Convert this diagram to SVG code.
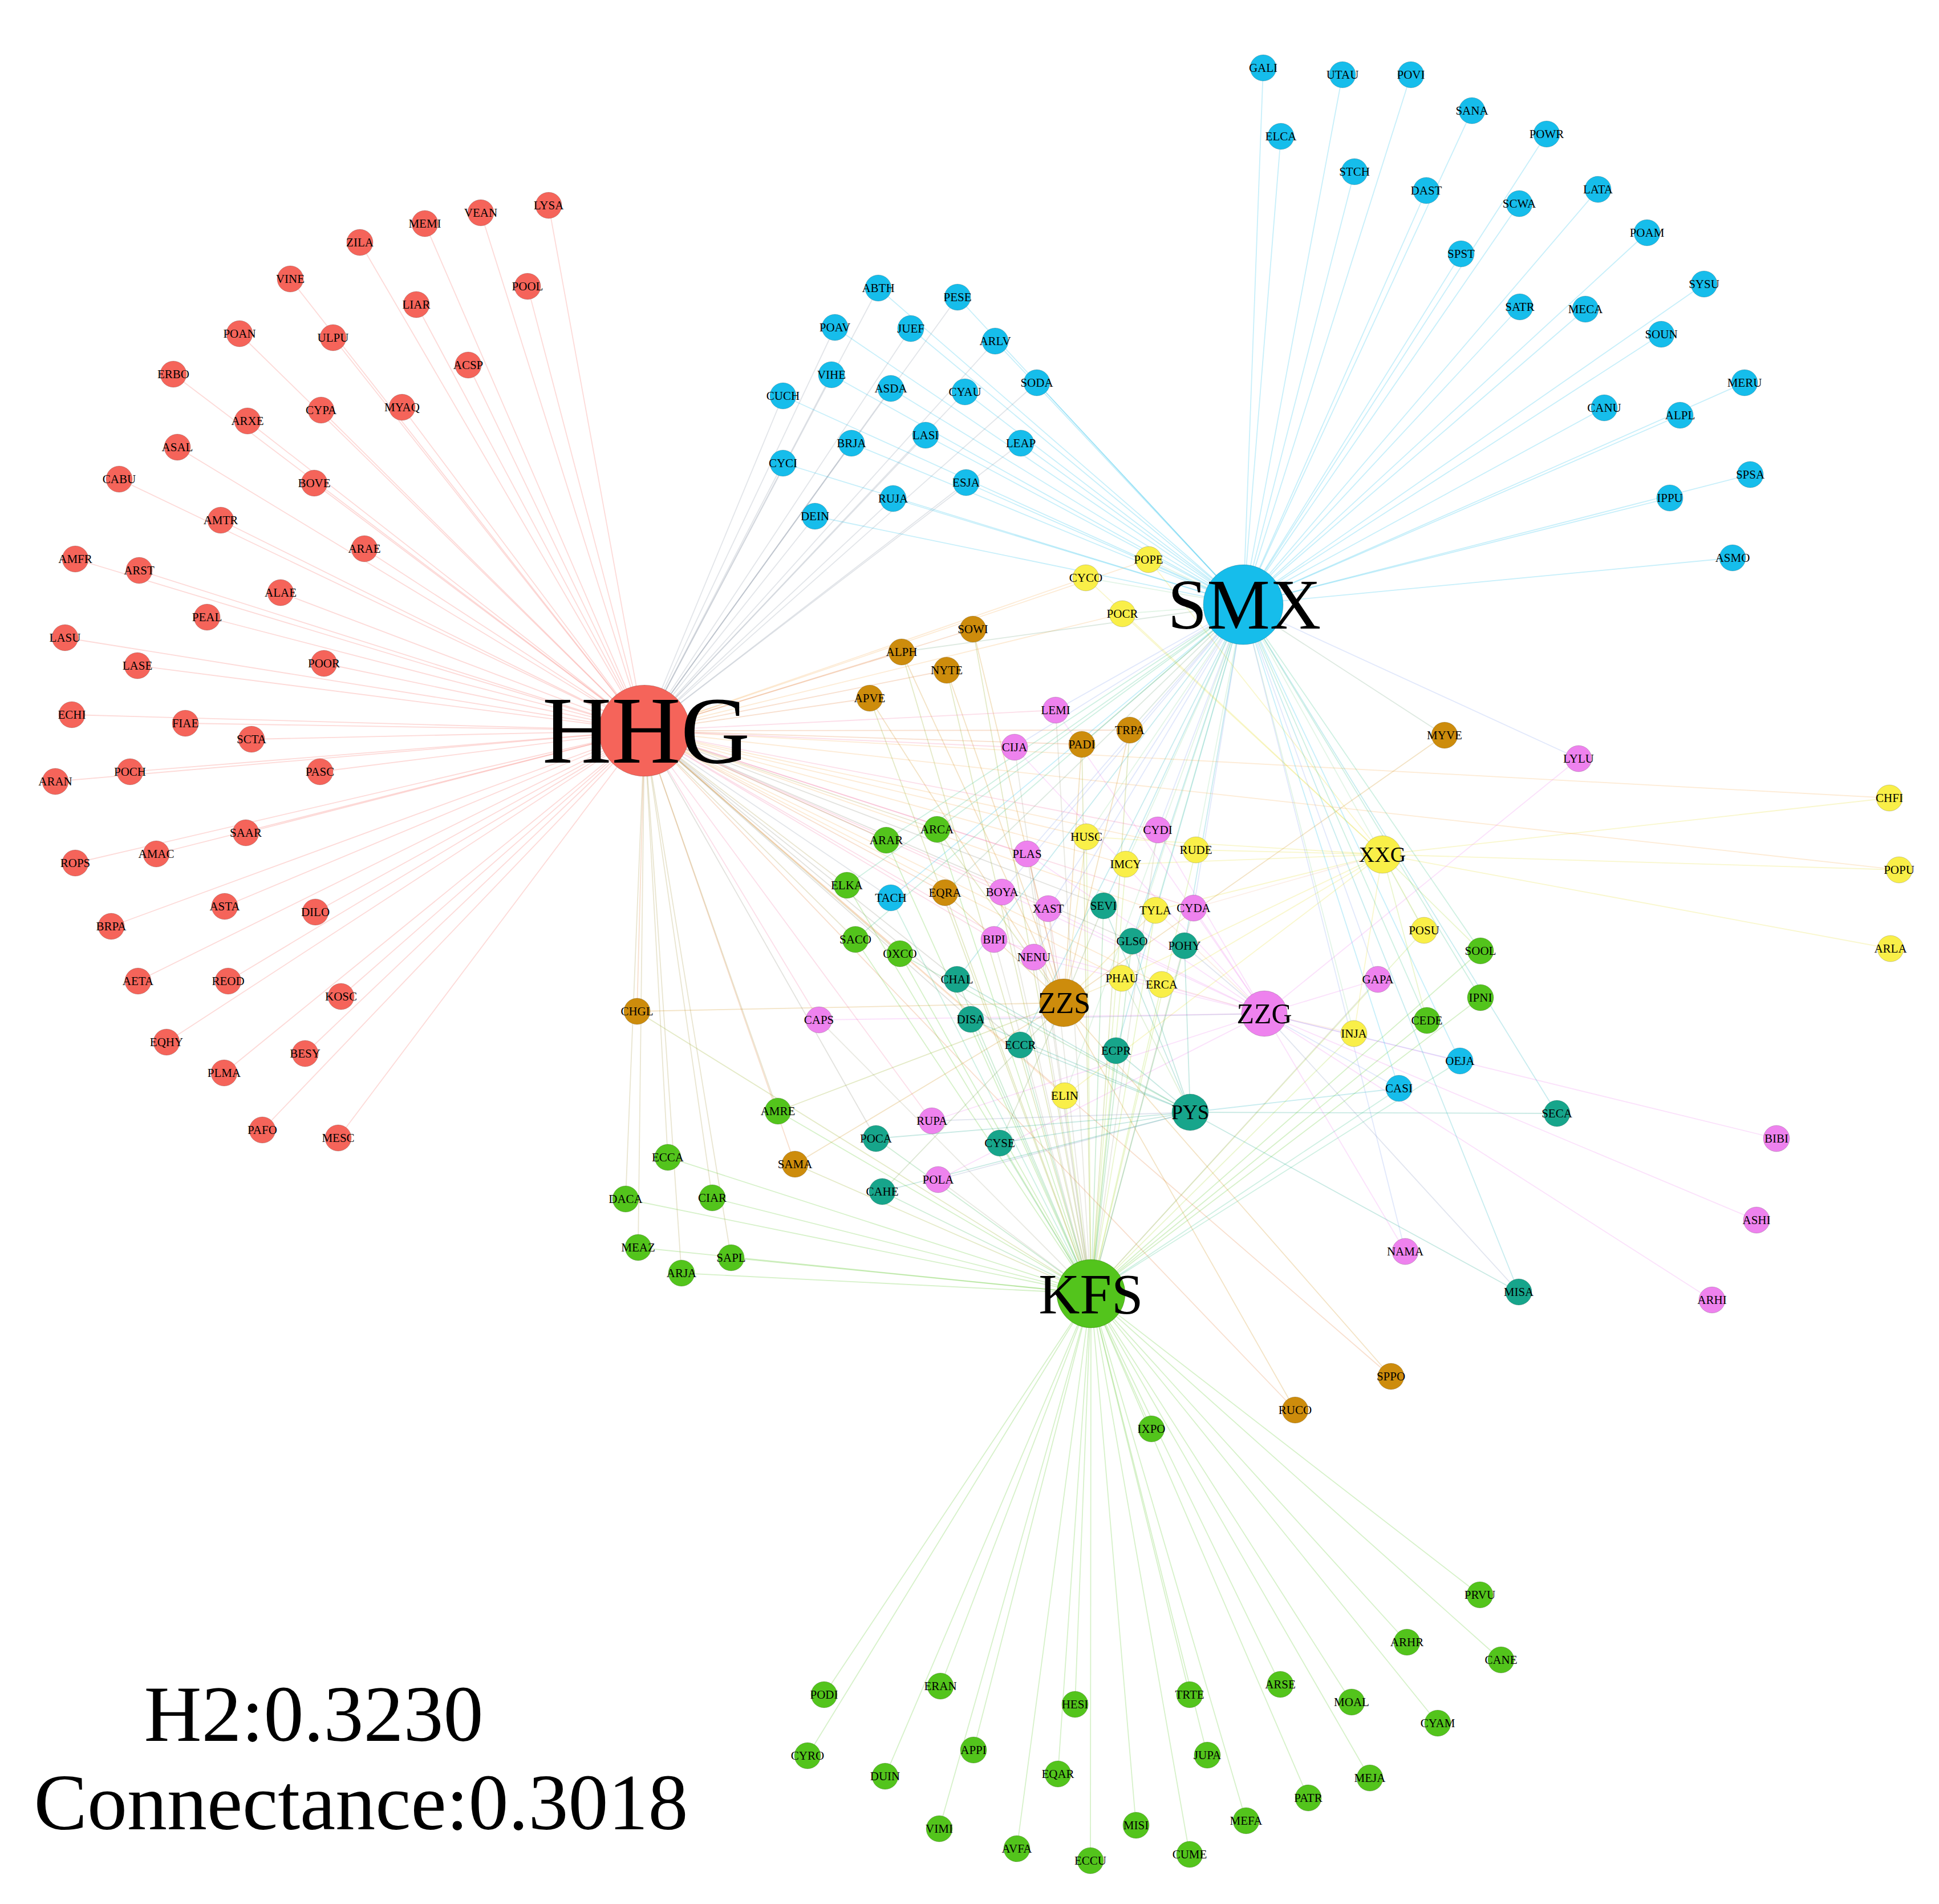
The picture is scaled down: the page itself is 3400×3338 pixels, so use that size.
<svg xmlns="http://www.w3.org/2000/svg" width="3400" height="3338" viewBox="0 0 3400 3338">
<style>
text{font-family:"Liberation Serif","Times New Roman",serif;font-size:21px;text-anchor:middle;fill:#000}
.hub text{font-size:60px}
circle{stroke:rgba(0,0,0,0.18);stroke-width:1}
.r circle{fill:#F5645A}.b circle{fill:#16BDEB}.y circle{fill:#F9EF48}.o circle{fill:#CD8C0C}.p circle{fill:#EE82EE}.t circle{fill:#17A58B}.g circle{fill:#53C41C}
#edges line{stroke-width:1.8;stroke-opacity:0.24;fill:none}
.eR{stroke:#F5645A}.eB{stroke:#16BDEB}.eY{stroke:#E8DC30}.eO{stroke:#CD8C0C}.eP{stroke:#EE82EE}.eT{stroke:#17A58B}.eG{stroke:#53C41C}
.eRB{stroke:#8691A3}.eRG{stroke:#A4943B}.eRY{stroke:#F7AA51}.eRO{stroke:#E17833}.eRP{stroke:#F273A4}.eRT{stroke:#868573}
.eBG{stroke:#35C184}.eBY{stroke:#88D69A}.eBO{stroke:#72A57C}.eBP{stroke:#82A0ED}.eBT{stroke:#17B1BB}
.eGY{stroke:#A6DA32}.eGO{stroke:#90A814}.eGP{stroke:#A1A385}.eGT{stroke:#35B554}
.eYO{stroke:#E3BE2A}.eYP{stroke:#F4B99B}.eYT{stroke:#88CA6A}.eOP{stroke:#DE877D}.eOT{stroke:#72994C}.ePT{stroke:#8394BD}
</style>
<rect width="3400" height="3338" fill="#fff"/>
<g id="edges">
<line class="eR" x1="962" y1="360" x2="1130" y2="1281"/>
<line class="eR" x1="843" y1="373" x2="1130" y2="1281"/>
<line class="eR" x1="745" y1="392" x2="1130" y2="1281"/>
<line class="eR" x1="631" y1="425" x2="1130" y2="1281"/>
<line class="eR" x1="509" y1="489" x2="1130" y2="1281"/>
<line class="eR" x1="925" y1="502" x2="1130" y2="1281"/>
<line class="eR" x1="730" y1="534" x2="1130" y2="1281"/>
<line class="eR" x1="420" y1="585" x2="1130" y2="1281"/>
<line class="eR" x1="584" y1="592" x2="1130" y2="1281"/>
<line class="eR" x1="821" y1="640" x2="1130" y2="1281"/>
<line class="eR" x1="304" y1="656" x2="1130" y2="1281"/>
<line class="eR" x1="563" y1="719" x2="1130" y2="1281"/>
<line class="eR" x1="705" y1="714" x2="1130" y2="1281"/>
<line class="eR" x1="434" y1="738" x2="1130" y2="1281"/>
<line class="eR" x1="311" y1="784" x2="1130" y2="1281"/>
<line class="eR" x1="209" y1="840" x2="1130" y2="1281"/>
<line class="eR" x1="551" y1="847" x2="1130" y2="1281"/>
<line class="eR" x1="387" y1="912" x2="1130" y2="1281"/>
<line class="eR" x1="639" y1="962" x2="1130" y2="1281"/>
<line class="eR" x1="132" y1="980" x2="1130" y2="1281"/>
<line class="eR" x1="244" y1="1000" x2="1130" y2="1281"/>
<line class="eR" x1="492" y1="1039" x2="1130" y2="1281"/>
<line class="eR" x1="363" y1="1082" x2="1130" y2="1281"/>
<line class="eR" x1="114" y1="1118" x2="1130" y2="1281"/>
<line class="eR" x1="241" y1="1167" x2="1130" y2="1281"/>
<line class="eR" x1="568" y1="1163" x2="1130" y2="1281"/>
<line class="eR" x1="126" y1="1253" x2="1130" y2="1281"/>
<line class="eR" x1="325" y1="1268" x2="1130" y2="1281"/>
<line class="eR" x1="441" y1="1296" x2="1130" y2="1281"/>
<line class="eR" x1="228" y1="1353" x2="1130" y2="1281"/>
<line class="eR" x1="561" y1="1353" x2="1130" y2="1281"/>
<line class="eR" x1="97" y1="1370" x2="1130" y2="1281"/>
<line class="eR" x1="431" y1="1460" x2="1130" y2="1281"/>
<line class="eR" x1="274" y1="1497" x2="1130" y2="1281"/>
<line class="eR" x1="132" y1="1513" x2="1130" y2="1281"/>
<line class="eR" x1="394" y1="1589" x2="1130" y2="1281"/>
<line class="eR" x1="553" y1="1599" x2="1130" y2="1281"/>
<line class="eR" x1="195" y1="1624" x2="1130" y2="1281"/>
<line class="eR" x1="242" y1="1720" x2="1130" y2="1281"/>
<line class="eR" x1="400" y1="1720" x2="1130" y2="1281"/>
<line class="eR" x1="598" y1="1747" x2="1130" y2="1281"/>
<line class="eR" x1="292" y1="1827" x2="1130" y2="1281"/>
<line class="eR" x1="535" y1="1847" x2="1130" y2="1281"/>
<line class="eR" x1="393" y1="1881" x2="1130" y2="1281"/>
<line class="eR" x1="460" y1="1981" x2="1130" y2="1281"/>
<line class="eR" x1="593" y1="1995" x2="1130" y2="1281"/>
<line class="eRB" x1="1540" y1="505" x2="1130" y2="1281"/><line class="eB" x1="1540" y1="505" x2="2180" y2="1060"/>
<line class="eRB" x1="1679" y1="521" x2="1130" y2="1281"/><line class="eB" x1="1679" y1="521" x2="2180" y2="1060"/>
<line class="eRB" x1="1464" y1="574" x2="1130" y2="1281"/><line class="eB" x1="1464" y1="574" x2="2180" y2="1060"/>
<line class="eRB" x1="1597" y1="576" x2="1130" y2="1281"/><line class="eB" x1="1597" y1="576" x2="2180" y2="1060"/>
<line class="eRB" x1="1745" y1="598" x2="1130" y2="1281"/><line class="eB" x1="1745" y1="598" x2="2180" y2="1060"/>
<line class="eRB" x1="1458" y1="657" x2="1130" y2="1281"/><line class="eB" x1="1458" y1="657" x2="2180" y2="1060"/>
<line class="eRB" x1="1562" y1="681" x2="1130" y2="1281"/><line class="eB" x1="1562" y1="681" x2="2180" y2="1060"/>
<line class="eRB" x1="1692" y1="687" x2="1130" y2="1281"/><line class="eB" x1="1692" y1="687" x2="2180" y2="1060"/>
<line class="eRB" x1="1818" y1="671" x2="1130" y2="1281"/><line class="eB" x1="1818" y1="671" x2="2180" y2="1060"/>
<line class="eRB" x1="1373" y1="694" x2="1130" y2="1281"/><line class="eB" x1="1373" y1="694" x2="2180" y2="1060"/>
<line class="eRB" x1="1623" y1="763" x2="1130" y2="1281"/><line class="eB" x1="1623" y1="763" x2="2180" y2="1060"/>
<line class="eRB" x1="1493" y1="777" x2="1130" y2="1281"/><line class="eB" x1="1493" y1="777" x2="2180" y2="1060"/>
<line class="eRB" x1="1790" y1="777" x2="1130" y2="1281"/><line class="eB" x1="1790" y1="777" x2="2180" y2="1060"/>
<line class="eRB" x1="1373" y1="812" x2="1130" y2="1281"/><line class="eB" x1="1373" y1="812" x2="2180" y2="1060"/>
<line class="eRB" x1="1694" y1="846" x2="1130" y2="1281"/><line class="eB" x1="1694" y1="846" x2="2180" y2="1060"/>
<line class="eRB" x1="1566" y1="874" x2="1130" y2="1281"/><line class="eB" x1="1566" y1="874" x2="2180" y2="1060"/>
<line class="eRB" x1="1429" y1="905" x2="1130" y2="1281"/><line class="eB" x1="1429" y1="905" x2="2180" y2="1060"/>
<line class="eB" x1="2215" y1="119" x2="2180" y2="1060"/>
<line class="eB" x1="2354" y1="131" x2="2180" y2="1060"/>
<line class="eB" x1="2474" y1="131" x2="2180" y2="1060"/>
<line class="eB" x1="2581" y1="194" x2="2180" y2="1060"/>
<line class="eB" x1="2246" y1="239" x2="2180" y2="1060"/>
<line class="eB" x1="2712" y1="235" x2="2180" y2="1060"/>
<line class="eB" x1="2375" y1="301" x2="2180" y2="1060"/>
<line class="eB" x1="2501" y1="334" x2="2180" y2="1060"/>
<line class="eB" x1="2664" y1="357" x2="2180" y2="1060"/>
<line class="eB" x1="2802" y1="332" x2="2180" y2="1060"/>
<line class="eB" x1="2888" y1="408" x2="2180" y2="1060"/>
<line class="eB" x1="2562" y1="445" x2="2180" y2="1060"/>
<line class="eB" x1="2988" y1="498" x2="2180" y2="1060"/>
<line class="eB" x1="2665" y1="538" x2="2180" y2="1060"/>
<line class="eB" x1="2780" y1="542" x2="2180" y2="1060"/>
<line class="eB" x1="2913" y1="586" x2="2180" y2="1060"/>
<line class="eB" x1="3059" y1="671" x2="2180" y2="1060"/>
<line class="eB" x1="2813" y1="715" x2="2180" y2="1060"/>
<line class="eB" x1="2946" y1="728" x2="2180" y2="1060"/>
<line class="eB" x1="3069" y1="832" x2="2180" y2="1060"/>
<line class="eB" x1="2928" y1="873" x2="2180" y2="1060"/>
<line class="eB" x1="3038" y1="978" x2="2180" y2="1060"/>
<line class="eG" x1="2595" y1="2796" x2="1913" y2="2268"/>
<line class="eG" x1="2467" y1="2879" x2="1913" y2="2268"/>
<line class="eG" x1="2632" y1="2910" x2="1913" y2="2268"/>
<line class="eG" x1="1445" y1="2971" x2="1913" y2="2268"/>
<line class="eG" x1="1649" y1="2956" x2="1913" y2="2268"/>
<line class="eG" x1="2086" y1="2971" x2="1913" y2="2268"/>
<line class="eG" x1="2245" y1="2953" x2="1913" y2="2268"/>
<line class="eG" x1="1885" y1="2988" x2="1913" y2="2268"/>
<line class="eG" x1="2370" y1="2984" x2="1913" y2="2268"/>
<line class="eG" x1="2521" y1="3021" x2="1913" y2="2268"/>
<line class="eG" x1="1416" y1="3078" x2="1913" y2="2268"/>
<line class="eG" x1="1707" y1="3068" x2="1913" y2="2268"/>
<line class="eG" x1="2117" y1="3077" x2="1913" y2="2268"/>
<line class="eG" x1="1552" y1="3114" x2="1913" y2="2268"/>
<line class="eG" x1="1855" y1="3110" x2="1913" y2="2268"/>
<line class="eG" x1="2402" y1="3117" x2="1913" y2="2268"/>
<line class="eG" x1="2294" y1="3152" x2="1913" y2="2268"/>
<line class="eG" x1="1647" y1="3206" x2="1913" y2="2268"/>
<line class="eG" x1="1992" y1="3200" x2="1913" y2="2268"/>
<line class="eG" x1="2185" y1="3192" x2="1913" y2="2268"/>
<line class="eG" x1="1783" y1="3241" x2="1913" y2="2268"/>
<line class="eG" x1="1912" y1="3262" x2="1913" y2="2268"/>
<line class="eG" x1="2086" y1="3251" x2="1913" y2="2268"/>
<line class="eG" x1="2019" y1="2505" x2="1913" y2="2268"/>
<line class="eRY" x1="1904" y1="1013" x2="1130" y2="1281"/><line class="eBY" x1="1904" y1="1013" x2="2180" y2="1060"/><line class="eY" x1="1904" y1="1013" x2="2424" y2="1498"/>
<line class="eRY" x1="2014" y1="981" x2="1130" y2="1281"/><line class="eBY" x1="2014" y1="981" x2="2180" y2="1060"/><line class="eY" x1="2014" y1="981" x2="2424" y2="1498"/>
<line class="eRY" x1="1968" y1="1076" x2="1130" y2="1281"/><line class="eBY" x1="1968" y1="1076" x2="2180" y2="1060"/><line class="eY" x1="1968" y1="1076" x2="2424" y2="1498"/>
<line class="eRY" x1="1905" y1="1467" x2="1130" y2="1281"/><line class="eBY" x1="1905" y1="1467" x2="2180" y2="1060"/><line class="eY" x1="1905" y1="1467" x2="2424" y2="1498"/><line class="eGY" x1="1905" y1="1467" x2="1913" y2="2268"/><line class="eYO" x1="1905" y1="1467" x2="1865" y2="1758"/>
<line class="eRY" x1="1974" y1="1515" x2="1130" y2="1281"/><line class="eBY" x1="1974" y1="1515" x2="2180" y2="1060"/><line class="eY" x1="1974" y1="1515" x2="2424" y2="1498"/><line class="eGY" x1="1974" y1="1515" x2="1913" y2="2268"/>
<line class="eRY" x1="2097" y1="1490" x2="1130" y2="1281"/><line class="eBY" x1="2097" y1="1490" x2="2180" y2="1060"/><line class="eY" x1="2097" y1="1490" x2="2424" y2="1498"/><line class="eGY" x1="2097" y1="1490" x2="1913" y2="2268"/>
<line class="eRY" x1="2026" y1="1596" x2="1130" y2="1281"/><line class="eBY" x1="2026" y1="1596" x2="2180" y2="1060"/><line class="eY" x1="2026" y1="1596" x2="2424" y2="1498"/><line class="eYP" x1="2026" y1="1596" x2="2217" y2="1777"/><line class="eGY" x1="2026" y1="1596" x2="1913" y2="2268"/><line class="eYO" x1="2026" y1="1596" x2="1865" y2="1758"/>
<line class="eRY" x1="1967" y1="1715" x2="1130" y2="1281"/><line class="eBY" x1="1967" y1="1715" x2="2180" y2="1060"/><line class="eY" x1="1967" y1="1715" x2="2424" y2="1498"/><line class="eGY" x1="1967" y1="1715" x2="1913" y2="2268"/><line class="eYO" x1="1967" y1="1715" x2="1865" y2="1758"/><line class="eYT" x1="1967" y1="1715" x2="2087" y2="1950"/>
<line class="eY" x1="2037" y1="1726" x2="2424" y2="1498"/><line class="eYP" x1="2037" y1="1726" x2="2217" y2="1777"/><line class="eGY" x1="2037" y1="1726" x2="1913" y2="2268"/><line class="eRY" x1="2037" y1="1726" x2="1130" y2="1281"/>
<line class="eY" x1="1867" y1="1921" x2="2424" y2="1498"/><line class="eGY" x1="1867" y1="1921" x2="1913" y2="2268"/><line class="eRY" x1="1867" y1="1921" x2="1130" y2="1281"/><line class="eBY" x1="1867" y1="1921" x2="2180" y2="1060"/>
<line class="eY" x1="2497" y1="1631" x2="2424" y2="1498"/><line class="eBY" x1="2497" y1="1631" x2="2180" y2="1060"/><line class="eGY" x1="2497" y1="1631" x2="1913" y2="2268"/>
<line class="eY" x1="2374" y1="1812" x2="2424" y2="1498"/><line class="eYP" x1="2374" y1="1812" x2="2217" y2="1777"/><line class="eGY" x1="2374" y1="1812" x2="1913" y2="2268"/><line class="eBY" x1="2374" y1="1812" x2="2180" y2="1060"/>
<line class="eY" x1="3313" y1="1399" x2="2424" y2="1498"/><line class="eRY" x1="3313" y1="1399" x2="1130" y2="1281"/>
<line class="eY" x1="3330" y1="1525" x2="2424" y2="1498"/><line class="eRY" x1="3330" y1="1525" x2="1130" y2="1281"/>
<line class="eY" x1="3315" y1="1663" x2="2424" y2="1498"/>
<line class="eRO" x1="1706" y1="1103" x2="1130" y2="1281"/><line class="eO" x1="1706" y1="1103" x2="1865" y2="1758"/><line class="eGO" x1="1706" y1="1103" x2="1913" y2="2268"/>
<line class="eRO" x1="1581" y1="1143" x2="1130" y2="1281"/><line class="eO" x1="1581" y1="1143" x2="1865" y2="1758"/><line class="eGO" x1="1581" y1="1143" x2="1913" y2="2268"/><line class="eBO" x1="1581" y1="1143" x2="2180" y2="1060"/>
<line class="eRO" x1="1660" y1="1175" x2="1130" y2="1281"/><line class="eO" x1="1660" y1="1175" x2="1865" y2="1758"/><line class="eGO" x1="1660" y1="1175" x2="1913" y2="2268"/>
<line class="eRO" x1="1525" y1="1224" x2="1130" y2="1281"/><line class="eO" x1="1525" y1="1224" x2="1865" y2="1758"/><line class="eGO" x1="1525" y1="1224" x2="1913" y2="2268"/>
<line class="eRO" x1="1897" y1="1305" x2="1130" y2="1281"/><line class="eO" x1="1897" y1="1305" x2="1865" y2="1758"/><line class="eBO" x1="1897" y1="1305" x2="2180" y2="1060"/><line class="eGO" x1="1897" y1="1305" x2="1913" y2="2268"/>
<line class="eRO" x1="1981" y1="1280" x2="1130" y2="1281"/><line class="eO" x1="1981" y1="1280" x2="1865" y2="1758"/><line class="eBO" x1="1981" y1="1280" x2="2180" y2="1060"/><line class="eGO" x1="1981" y1="1280" x2="1913" y2="2268"/>
<line class="eRO" x1="1657" y1="1565" x2="1130" y2="1281"/><line class="eO" x1="1657" y1="1565" x2="1865" y2="1758"/><line class="eGO" x1="1657" y1="1565" x2="1913" y2="2268"/><line class="eBO" x1="1657" y1="1565" x2="2180" y2="1060"/>
<line class="eRO" x1="1117" y1="1773" x2="1130" y2="1281"/><line class="eO" x1="1117" y1="1773" x2="1865" y2="1758"/><line class="eGO" x1="1117" y1="1773" x2="1913" y2="2268"/>
<line class="eO" x1="1394" y1="2041" x2="1865" y2="1758"/><line class="eGO" x1="1394" y1="2041" x2="1913" y2="2268"/><line class="eRO" x1="1394" y1="2041" x2="1130" y2="1281"/>
<line class="eO" x1="2533" y1="1289" x2="1865" y2="1758"/><line class="eBO" x1="2533" y1="1289" x2="2180" y2="1060"/>
<line class="eO" x1="2439" y1="2413" x2="1865" y2="1758"/><line class="eRO" x1="2439" y1="2413" x2="1130" y2="1281"/>
<line class="eO" x1="2271" y1="2472" x2="1865" y2="1758"/><line class="eRO" x1="2271" y1="2472" x2="1130" y2="1281"/>
<line class="eRP" x1="1851" y1="1245" x2="1130" y2="1281"/><line class="eP" x1="1851" y1="1245" x2="2217" y2="1777"/><line class="eBP" x1="1851" y1="1245" x2="2180" y2="1060"/><line class="eGP" x1="1851" y1="1245" x2="1913" y2="2268"/>
<line class="eRP" x1="1779" y1="1310" x2="1130" y2="1281"/><line class="eP" x1="1779" y1="1310" x2="2217" y2="1777"/><line class="eGP" x1="1779" y1="1310" x2="1913" y2="2268"/><line class="eBP" x1="1779" y1="1310" x2="2180" y2="1060"/>
<line class="eRP" x1="1801" y1="1497" x2="1130" y2="1281"/><line class="eP" x1="1801" y1="1497" x2="2217" y2="1777"/><line class="eBP" x1="1801" y1="1497" x2="2180" y2="1060"/><line class="eGP" x1="1801" y1="1497" x2="1913" y2="2268"/><line class="eOP" x1="1801" y1="1497" x2="1865" y2="1758"/>
<line class="eRP" x1="2030" y1="1455" x2="1130" y2="1281"/><line class="eP" x1="2030" y1="1455" x2="2217" y2="1777"/><line class="eBP" x1="2030" y1="1455" x2="2180" y2="1060"/><line class="eGP" x1="2030" y1="1455" x2="1913" y2="2268"/>
<line class="eRP" x1="1757" y1="1564" x2="1130" y2="1281"/><line class="eP" x1="1757" y1="1564" x2="2217" y2="1777"/><line class="eGP" x1="1757" y1="1564" x2="1913" y2="2268"/><line class="eBP" x1="1757" y1="1564" x2="2180" y2="1060"/>
<line class="eRP" x1="1838" y1="1593" x2="1130" y2="1281"/><line class="eP" x1="1838" y1="1593" x2="2217" y2="1777"/><line class="eGP" x1="1838" y1="1593" x2="1913" y2="2268"/><line class="eBP" x1="1838" y1="1593" x2="2180" y2="1060"/><line class="eOP" x1="1838" y1="1593" x2="1865" y2="1758"/>
<line class="eRP" x1="2093" y1="1592" x2="1130" y2="1281"/><line class="eP" x1="2093" y1="1592" x2="2217" y2="1777"/><line class="eBP" x1="2093" y1="1592" x2="2180" y2="1060"/><line class="eYP" x1="2093" y1="1592" x2="2424" y2="1498"/><line class="eGP" x1="2093" y1="1592" x2="1913" y2="2268"/>
<line class="eRP" x1="1743" y1="1647" x2="1130" y2="1281"/><line class="eP" x1="1743" y1="1647" x2="2217" y2="1777"/><line class="eGP" x1="1743" y1="1647" x2="1913" y2="2268"/>
<line class="eRP" x1="1813" y1="1678" x2="1130" y2="1281"/><line class="eP" x1="1813" y1="1678" x2="2217" y2="1777"/><line class="eGP" x1="1813" y1="1678" x2="1913" y2="2268"/><line class="eBP" x1="1813" y1="1678" x2="2180" y2="1060"/>
<line class="eP" x1="1436" y1="1788" x2="2217" y2="1777"/><line class="eRP" x1="1436" y1="1788" x2="1130" y2="1281"/><line class="eGP" x1="1436" y1="1788" x2="1913" y2="2268"/>
<line class="eP" x1="1634" y1="1965" x2="2217" y2="1777"/><line class="ePT" x1="1634" y1="1965" x2="2087" y2="1950"/><line class="eRP" x1="1634" y1="1965" x2="1130" y2="1281"/>
<line class="eP" x1="1645" y1="2068" x2="2217" y2="1777"/><line class="ePT" x1="1645" y1="2068" x2="2087" y2="1950"/><line class="eGP" x1="1645" y1="2068" x2="1913" y2="2268"/>
<line class="eP" x1="2416" y1="1717" x2="2217" y2="1777"/><line class="eBP" x1="2416" y1="1717" x2="2180" y2="1060"/><line class="eGP" x1="2416" y1="1717" x2="1913" y2="2268"/>
<line class="eBP" x1="2768" y1="1330" x2="2180" y2="1060"/><line class="eP" x1="2768" y1="1330" x2="2217" y2="1777"/>
<line class="eBP" x1="2464" y1="2194" x2="2180" y2="1060"/><line class="eP" x1="2464" y1="2194" x2="2217" y2="1777"/>
<line class="eP" x1="3115" y1="1996" x2="2217" y2="1777"/>
<line class="eP" x1="3080" y1="2139" x2="2217" y2="1777"/>
<line class="eP" x1="3002" y1="2279" x2="2217" y2="1777"/>
<line class="eRT" x1="1935" y1="1588" x2="1130" y2="1281"/><line class="eT" x1="1935" y1="1588" x2="2087" y2="1950"/><line class="eBT" x1="1935" y1="1588" x2="2180" y2="1060"/><line class="eGT" x1="1935" y1="1588" x2="1913" y2="2268"/><line class="eOT" x1="1935" y1="1588" x2="1865" y2="1758"/>
<line class="eT" x1="1985" y1="1650" x2="2087" y2="1950"/><line class="eBT" x1="1985" y1="1650" x2="2180" y2="1060"/><line class="eGT" x1="1985" y1="1650" x2="1913" y2="2268"/><line class="eRT" x1="1985" y1="1650" x2="1130" y2="1281"/>
<line class="eT" x1="2077" y1="1658" x2="2087" y2="1950"/><line class="eBT" x1="2077" y1="1658" x2="2180" y2="1060"/><line class="eGT" x1="2077" y1="1658" x2="1913" y2="2268"/><line class="ePT" x1="2077" y1="1658" x2="2217" y2="1777"/>
<line class="eT" x1="1678" y1="1717" x2="2087" y2="1950"/><line class="eRT" x1="1678" y1="1717" x2="1130" y2="1281"/><line class="eGT" x1="1678" y1="1717" x2="1913" y2="2268"/><line class="eBT" x1="1678" y1="1717" x2="2180" y2="1060"/>
<line class="eT" x1="1702" y1="1787" x2="2087" y2="1950"/><line class="ePT" x1="1702" y1="1787" x2="2217" y2="1777"/><line class="eGT" x1="1702" y1="1787" x2="1913" y2="2268"/><line class="eRT" x1="1702" y1="1787" x2="1130" y2="1281"/>
<line class="eT" x1="1789" y1="1832" x2="2087" y2="1950"/><line class="eGT" x1="1789" y1="1832" x2="1913" y2="2268"/><line class="eRT" x1="1789" y1="1832" x2="1130" y2="1281"/><line class="eBT" x1="1789" y1="1832" x2="2180" y2="1060"/>
<line class="eT" x1="1957" y1="1842" x2="2087" y2="1950"/><line class="eGT" x1="1957" y1="1842" x2="1913" y2="2268"/><line class="eBT" x1="1957" y1="1842" x2="2180" y2="1060"/>
<line class="eT" x1="1536" y1="1996" x2="2087" y2="1950"/><line class="eGT" x1="1536" y1="1996" x2="1913" y2="2268"/><line class="eRT" x1="1536" y1="1996" x2="1130" y2="1281"/>
<line class="eT" x1="1753" y1="2004" x2="2087" y2="1950"/><line class="eGT" x1="1753" y1="2004" x2="1913" y2="2268"/><line class="eOT" x1="1753" y1="2004" x2="1865" y2="1758"/>
<line class="eT" x1="1547" y1="2089" x2="2087" y2="1950"/><line class="eGT" x1="1547" y1="2089" x2="1913" y2="2268"/><line class="eOT" x1="1547" y1="2089" x2="1865" y2="1758"/>
<line class="eT" x1="2730" y1="1952" x2="2087" y2="1950"/><line class="eBT" x1="2730" y1="1952" x2="2180" y2="1060"/>
<line class="eT" x1="2663" y1="2265" x2="2087" y2="1950"/><line class="ePT" x1="2663" y1="2265" x2="2217" y2="1777"/><line class="eBT" x1="2663" y1="2265" x2="2180" y2="1060"/>
<line class="eG" x1="1643" y1="1454" x2="1913" y2="2268"/><line class="eRG" x1="1643" y1="1454" x2="1130" y2="1281"/><line class="eBG" x1="1643" y1="1454" x2="2180" y2="1060"/><line class="eGO" x1="1643" y1="1454" x2="1865" y2="1758"/>
<line class="eG" x1="1554" y1="1473" x2="1913" y2="2268"/><line class="eRG" x1="1554" y1="1473" x2="1130" y2="1281"/><line class="eBG" x1="1554" y1="1473" x2="2180" y2="1060"/>
<line class="eG" x1="1485" y1="1552" x2="1913" y2="2268"/><line class="eRG" x1="1485" y1="1552" x2="1130" y2="1281"/><line class="eBG" x1="1485" y1="1552" x2="2180" y2="1060"/>
<line class="eG" x1="1500" y1="1647" x2="1913" y2="2268"/><line class="eRG" x1="1500" y1="1647" x2="1130" y2="1281"/><line class="eBG" x1="1500" y1="1647" x2="2180" y2="1060"/>
<line class="eG" x1="1578" y1="1672" x2="1913" y2="2268"/><line class="eRG" x1="1578" y1="1672" x2="1130" y2="1281"/><line class="eGT" x1="1578" y1="1672" x2="2087" y2="1950"/>
<line class="eG" x1="1364" y1="1948" x2="1913" y2="2268"/><line class="eRG" x1="1364" y1="1948" x2="1130" y2="1281"/><line class="eGO" x1="1364" y1="1948" x2="1865" y2="1758"/>
<line class="eG" x1="1171" y1="2029" x2="1913" y2="2268"/><line class="eRG" x1="1171" y1="2029" x2="1130" y2="1281"/>
<line class="eG" x1="1097" y1="2102" x2="1913" y2="2268"/><line class="eRG" x1="1097" y1="2102" x2="1130" y2="1281"/>
<line class="eG" x1="1249" y1="2100" x2="1913" y2="2268"/><line class="eRG" x1="1249" y1="2100" x2="1130" y2="1281"/>
<line class="eG" x1="1119" y1="2187" x2="1913" y2="2268"/><line class="eRG" x1="1119" y1="2187" x2="1130" y2="1281"/>
<line class="eG" x1="1195" y1="2232" x2="1913" y2="2268"/><line class="eRG" x1="1195" y1="2232" x2="1130" y2="1281"/>
<line class="eG" x1="1282" y1="2205" x2="1913" y2="2268"/><line class="eRG" x1="1282" y1="2205" x2="1130" y2="1281"/>
<line class="eG" x1="2596" y1="1667" x2="1913" y2="2268"/><line class="eBG" x1="2596" y1="1667" x2="2180" y2="1060"/><line class="eGY" x1="2596" y1="1667" x2="2424" y2="1498"/>
<line class="eG" x1="2596" y1="1749" x2="1913" y2="2268"/><line class="eBG" x1="2596" y1="1749" x2="2180" y2="1060"/>
<line class="eG" x1="2502" y1="1789" x2="1913" y2="2268"/><line class="eBG" x1="2502" y1="1789" x2="2180" y2="1060"/><line class="eGY" x1="2502" y1="1789" x2="2424" y2="1498"/>
<line class="eB" x1="1562" y1="1574" x2="2180" y2="1060"/><line class="eRB" x1="1562" y1="1574" x2="1130" y2="1281"/><line class="eBG" x1="1562" y1="1574" x2="1913" y2="2268"/>
<line class="eB" x1="2560" y1="1860" x2="2180" y2="1060"/><line class="eBG" x1="2560" y1="1860" x2="1913" y2="2268"/><line class="eBP" x1="2560" y1="1860" x2="2217" y2="1777"/>
<line class="eB" x1="2453" y1="1908" x2="2180" y2="1060"/><line class="eBG" x1="2453" y1="1908" x2="1913" y2="2268"/><line class="eBP" x1="2453" y1="1908" x2="2217" y2="1777"/><line class="eBT" x1="2453" y1="1908" x2="2087" y2="1950"/>
</g>
<g id="nodes">
<g id="n-LYSA" class="r"><circle cx="962" cy="360" r="23"/><text x="962" y="367">LYSA</text></g>
<g id="n-VEAN" class="r"><circle cx="843" cy="373" r="23"/><text x="843" y="380">VEAN</text></g>
<g id="n-MEMI" class="r"><circle cx="745" cy="392" r="23"/><text x="745" y="399">MEMI</text></g>
<g id="n-ZILA" class="r"><circle cx="631" cy="425" r="23"/><text x="631" y="432">ZILA</text></g>
<g id="n-VINE" class="r"><circle cx="509" cy="489" r="23"/><text x="509" y="496">VINE</text></g>
<g id="n-POOL" class="r"><circle cx="925" cy="502" r="23"/><text x="925" y="509">POOL</text></g>
<g id="n-LIAR" class="r"><circle cx="730" cy="534" r="23"/><text x="730" y="541">LIAR</text></g>
<g id="n-POAN" class="r"><circle cx="420" cy="585" r="23"/><text x="420" y="592">POAN</text></g>
<g id="n-ULPU" class="r"><circle cx="584" cy="592" r="23"/><text x="584" y="599">ULPU</text></g>
<g id="n-ACSP" class="r"><circle cx="821" cy="640" r="23"/><text x="821" y="647">ACSP</text></g>
<g id="n-ERBO" class="r"><circle cx="304" cy="656" r="23"/><text x="304" y="663">ERBO</text></g>
<g id="n-CYPA" class="r"><circle cx="563" cy="719" r="23"/><text x="563" y="726">CYPA</text></g>
<g id="n-MYAQ" class="r"><circle cx="705" cy="714" r="23"/><text x="705" y="721">MYAQ</text></g>
<g id="n-ARXE" class="r"><circle cx="434" cy="738" r="23"/><text x="434" y="745">ARXE</text></g>
<g id="n-ASAL" class="r"><circle cx="311" cy="784" r="23"/><text x="311" y="791">ASAL</text></g>
<g id="n-CABU" class="r"><circle cx="209" cy="840" r="23"/><text x="209" y="847">CABU</text></g>
<g id="n-BOVE" class="r"><circle cx="551" cy="847" r="23"/><text x="551" y="854">BOVE</text></g>
<g id="n-AMTR" class="r"><circle cx="387" cy="912" r="23"/><text x="387" y="919">AMTR</text></g>
<g id="n-ARAE" class="r"><circle cx="639" cy="962" r="23"/><text x="639" y="969">ARAE</text></g>
<g id="n-AMFR" class="r"><circle cx="132" cy="980" r="23"/><text x="132" y="987">AMFR</text></g>
<g id="n-ARST" class="r"><circle cx="244" cy="1000" r="23"/><text x="244" y="1007">ARST</text></g>
<g id="n-ALAE" class="r"><circle cx="492" cy="1039" r="23"/><text x="492" y="1046">ALAE</text></g>
<g id="n-PEAL" class="r"><circle cx="363" cy="1082" r="23"/><text x="363" y="1089">PEAL</text></g>
<g id="n-LASU" class="r"><circle cx="114" cy="1118" r="23"/><text x="114" y="1125">LASU</text></g>
<g id="n-LASE" class="r"><circle cx="241" cy="1167" r="23"/><text x="241" y="1174">LASE</text></g>
<g id="n-POOR" class="r"><circle cx="568" cy="1163" r="23"/><text x="568" y="1170">POOR</text></g>
<g id="n-ECHI" class="r"><circle cx="126" cy="1253" r="23"/><text x="126" y="1260">ECHI</text></g>
<g id="n-FIAE" class="r"><circle cx="325" cy="1268" r="23"/><text x="325" y="1275">FIAE</text></g>
<g id="n-SCTA" class="r"><circle cx="441" cy="1296" r="23"/><text x="441" y="1303">SCTA</text></g>
<g id="n-POCH" class="r"><circle cx="228" cy="1353" r="23"/><text x="228" y="1360">POCH</text></g>
<g id="n-PASC" class="r"><circle cx="561" cy="1353" r="23"/><text x="561" y="1360">PASC</text></g>
<g id="n-ARAN" class="r"><circle cx="97" cy="1370" r="23"/><text x="97" y="1377">ARAN</text></g>
<g id="n-SAAR" class="r"><circle cx="431" cy="1460" r="23"/><text x="431" y="1467">SAAR</text></g>
<g id="n-AMAC" class="r"><circle cx="274" cy="1497" r="23"/><text x="274" y="1504">AMAC</text></g>
<g id="n-ROPS" class="r"><circle cx="132" cy="1513" r="23"/><text x="132" y="1520">ROPS</text></g>
<g id="n-ASTA" class="r"><circle cx="394" cy="1589" r="23"/><text x="394" y="1596">ASTA</text></g>
<g id="n-DILO" class="r"><circle cx="553" cy="1599" r="23"/><text x="553" y="1606">DILO</text></g>
<g id="n-BRPA" class="r"><circle cx="195" cy="1624" r="23"/><text x="195" y="1631">BRPA</text></g>
<g id="n-AETA" class="r"><circle cx="242" cy="1720" r="23"/><text x="242" y="1727">AETA</text></g>
<g id="n-REOD" class="r"><circle cx="400" cy="1720" r="23"/><text x="400" y="1727">REOD</text></g>
<g id="n-KOSC" class="r"><circle cx="598" cy="1747" r="23"/><text x="598" y="1754">KOSC</text></g>
<g id="n-EQHY" class="r"><circle cx="292" cy="1827" r="23"/><text x="292" y="1834">EQHY</text></g>
<g id="n-BESY" class="r"><circle cx="535" cy="1847" r="23"/><text x="535" y="1854">BESY</text></g>
<g id="n-PLMA" class="r"><circle cx="393" cy="1881" r="23"/><text x="393" y="1888">PLMA</text></g>
<g id="n-PAFO" class="r"><circle cx="460" cy="1981" r="23"/><text x="460" y="1988">PAFO</text></g>
<g id="n-MESC" class="r"><circle cx="593" cy="1995" r="23"/><text x="593" y="2002">MESC</text></g>
<g id="n-ABTH" class="b"><circle cx="1540" cy="505" r="23"/><text x="1540" y="512">ABTH</text></g>
<g id="n-PESE" class="b"><circle cx="1679" cy="521" r="23"/><text x="1679" y="528">PESE</text></g>
<g id="n-POAV" class="b"><circle cx="1464" cy="574" r="23"/><text x="1464" y="581">POAV</text></g>
<g id="n-JUEF" class="b"><circle cx="1597" cy="576" r="23"/><text x="1597" y="583">JUEF</text></g>
<g id="n-ARLV" class="b"><circle cx="1745" cy="598" r="23"/><text x="1745" y="605">ARLV</text></g>
<g id="n-VIHE" class="b"><circle cx="1458" cy="657" r="23"/><text x="1458" y="664">VIHE</text></g>
<g id="n-ASDA" class="b"><circle cx="1562" cy="681" r="23"/><text x="1562" y="688">ASDA</text></g>
<g id="n-CYAU" class="b"><circle cx="1692" cy="687" r="23"/><text x="1692" y="694">CYAU</text></g>
<g id="n-SODA" class="b"><circle cx="1818" cy="671" r="23"/><text x="1818" y="678">SODA</text></g>
<g id="n-CUCH" class="b"><circle cx="1373" cy="694" r="23"/><text x="1373" y="701">CUCH</text></g>
<g id="n-LASI" class="b"><circle cx="1623" cy="763" r="23"/><text x="1623" y="770">LASI</text></g>
<g id="n-BRJA" class="b"><circle cx="1493" cy="777" r="23"/><text x="1493" y="784">BRJA</text></g>
<g id="n-LEAP" class="b"><circle cx="1790" cy="777" r="23"/><text x="1790" y="784">LEAP</text></g>
<g id="n-CYCI" class="b"><circle cx="1373" cy="812" r="23"/><text x="1373" y="819">CYCI</text></g>
<g id="n-ESJA" class="b"><circle cx="1694" cy="846" r="23"/><text x="1694" y="853">ESJA</text></g>
<g id="n-RUJA" class="b"><circle cx="1566" cy="874" r="23"/><text x="1566" y="881">RUJA</text></g>
<g id="n-DEIN" class="b"><circle cx="1429" cy="905" r="23"/><text x="1429" y="912">DEIN</text></g>
<g id="n-GALI" class="b"><circle cx="2215" cy="119" r="23"/><text x="2215" y="126">GALI</text></g>
<g id="n-UTAU" class="b"><circle cx="2354" cy="131" r="23"/><text x="2354" y="138">UTAU</text></g>
<g id="n-POVI" class="b"><circle cx="2474" cy="131" r="23"/><text x="2474" y="138">POVI</text></g>
<g id="n-SANA" class="b"><circle cx="2581" cy="194" r="23"/><text x="2581" y="201">SANA</text></g>
<g id="n-ELCA" class="b"><circle cx="2246" cy="239" r="23"/><text x="2246" y="246">ELCA</text></g>
<g id="n-POWR" class="b"><circle cx="2712" cy="235" r="23"/><text x="2712" y="242">POWR</text></g>
<g id="n-STCH" class="b"><circle cx="2375" cy="301" r="23"/><text x="2375" y="308">STCH</text></g>
<g id="n-DAST" class="b"><circle cx="2501" cy="334" r="23"/><text x="2501" y="341">DAST</text></g>
<g id="n-SCWA" class="b"><circle cx="2664" cy="357" r="23"/><text x="2664" y="364">SCWA</text></g>
<g id="n-LATA" class="b"><circle cx="2802" cy="332" r="23"/><text x="2802" y="339">LATA</text></g>
<g id="n-POAM" class="b"><circle cx="2888" cy="408" r="23"/><text x="2888" y="415">POAM</text></g>
<g id="n-SPST" class="b"><circle cx="2562" cy="445" r="23"/><text x="2562" y="452">SPST</text></g>
<g id="n-SYSU" class="b"><circle cx="2988" cy="498" r="23"/><text x="2988" y="505">SYSU</text></g>
<g id="n-SATR" class="b"><circle cx="2665" cy="538" r="23"/><text x="2665" y="545">SATR</text></g>
<g id="n-MECA" class="b"><circle cx="2780" cy="542" r="23"/><text x="2780" y="549">MECA</text></g>
<g id="n-SOUN" class="b"><circle cx="2913" cy="586" r="23"/><text x="2913" y="593">SOUN</text></g>
<g id="n-MERU" class="b"><circle cx="3059" cy="671" r="23"/><text x="3059" y="678">MERU</text></g>
<g id="n-CANU" class="b"><circle cx="2813" cy="715" r="23"/><text x="2813" y="722">CANU</text></g>
<g id="n-ALPL" class="b"><circle cx="2946" cy="728" r="23"/><text x="2946" y="735">ALPL</text></g>
<g id="n-SPSA" class="b"><circle cx="3069" cy="832" r="23"/><text x="3069" y="839">SPSA</text></g>
<g id="n-IPPU" class="b"><circle cx="2928" cy="873" r="23"/><text x="2928" y="880">IPPU</text></g>
<g id="n-ASMO" class="b"><circle cx="3038" cy="978" r="23"/><text x="3038" y="985">ASMO</text></g>
<g id="n-TACH" class="b"><circle cx="1562" cy="1574" r="23"/><text x="1562" y="1581">TACH</text></g>
<g id="n-OEJA" class="b"><circle cx="2560" cy="1860" r="23"/><text x="2560" y="1867">OEJA</text></g>
<g id="n-CASI" class="b"><circle cx="2453" cy="1908" r="23"/><text x="2453" y="1915">CASI</text></g>
<g id="n-CYCO" class="y"><circle cx="1904" cy="1013" r="23"/><text x="1904" y="1020">CYCO</text></g>
<g id="n-POPE" class="y"><circle cx="2014" cy="981" r="23"/><text x="2014" y="988">POPE</text></g>
<g id="n-POCR" class="y"><circle cx="1968" cy="1076" r="23"/><text x="1968" y="1083">POCR</text></g>
<g id="n-HUSC" class="y"><circle cx="1905" cy="1467" r="23"/><text x="1905" y="1474">HUSC</text></g>
<g id="n-IMCY" class="y"><circle cx="1974" cy="1515" r="23"/><text x="1974" y="1522">IMCY</text></g>
<g id="n-RUDE" class="y"><circle cx="2097" cy="1490" r="23"/><text x="2097" y="1497">RUDE</text></g>
<g id="n-TYLA" class="y"><circle cx="2026" cy="1596" r="23"/><text x="2026" y="1603">TYLA</text></g>
<g id="n-PHAU" class="y"><circle cx="1967" cy="1715" r="23"/><text x="1967" y="1722">PHAU</text></g>
<g id="n-ERCA" class="y"><circle cx="2037" cy="1726" r="23"/><text x="2037" y="1733">ERCA</text></g>
<g id="n-ELIN" class="y"><circle cx="1867" cy="1921" r="23"/><text x="1867" y="1928">ELIN</text></g>
<g id="n-POSU" class="y"><circle cx="2497" cy="1631" r="23"/><text x="2497" y="1638">POSU</text></g>
<g id="n-INJA" class="y"><circle cx="2374" cy="1812" r="23"/><text x="2374" y="1819">INJA</text></g>
<g id="n-CHFI" class="y"><circle cx="3313" cy="1399" r="23"/><text x="3313" y="1406">CHFI</text></g>
<g id="n-POPU" class="y"><circle cx="3330" cy="1525" r="23"/><text x="3330" y="1532">POPU</text></g>
<g id="n-ARLA" class="y"><circle cx="3315" cy="1663" r="23"/><text x="3315" y="1670">ARLA</text></g>
<g id="n-SOWI" class="o"><circle cx="1706" cy="1103" r="23"/><text x="1706" y="1110">SOWI</text></g>
<g id="n-ALPH" class="o"><circle cx="1581" cy="1143" r="23"/><text x="1581" y="1150">ALPH</text></g>
<g id="n-NYTE" class="o"><circle cx="1660" cy="1175" r="23"/><text x="1660" y="1182">NYTE</text></g>
<g id="n-APVE" class="o"><circle cx="1525" cy="1224" r="23"/><text x="1525" y="1231">APVE</text></g>
<g id="n-PADI" class="o"><circle cx="1897" cy="1305" r="23"/><text x="1897" y="1312">PADI</text></g>
<g id="n-TRPA" class="o"><circle cx="1981" cy="1280" r="23"/><text x="1981" y="1287">TRPA</text></g>
<g id="n-EQRA" class="o"><circle cx="1657" cy="1565" r="23"/><text x="1657" y="1572">EQRA</text></g>
<g id="n-CHGL" class="o"><circle cx="1117" cy="1773" r="23"/><text x="1117" y="1780">CHGL</text></g>
<g id="n-SAMA" class="o"><circle cx="1394" cy="2041" r="23"/><text x="1394" y="2048">SAMA</text></g>
<g id="n-MYVE" class="o"><circle cx="2533" cy="1289" r="23"/><text x="2533" y="1296">MYVE</text></g>
<g id="n-SPPO" class="o"><circle cx="2439" cy="2413" r="23"/><text x="2439" y="2420">SPPO</text></g>
<g id="n-RUCO" class="o"><circle cx="2271" cy="2472" r="23"/><text x="2271" y="2479">RUCO</text></g>
<g id="n-LEMI" class="p"><circle cx="1851" cy="1245" r="23"/><text x="1851" y="1252">LEMI</text></g>
<g id="n-CIJA" class="p"><circle cx="1779" cy="1310" r="23"/><text x="1779" y="1317">CIJA</text></g>
<g id="n-PLAS" class="p"><circle cx="1801" cy="1497" r="23"/><text x="1801" y="1504">PLAS</text></g>
<g id="n-CYDI" class="p"><circle cx="2030" cy="1455" r="23"/><text x="2030" y="1462">CYDI</text></g>
<g id="n-BOYA" class="p"><circle cx="1757" cy="1564" r="23"/><text x="1757" y="1571">BOYA</text></g>
<g id="n-XAST" class="p"><circle cx="1838" cy="1593" r="23"/><text x="1838" y="1600">XAST</text></g>
<g id="n-CYDA" class="p"><circle cx="2093" cy="1592" r="23"/><text x="2093" y="1599">CYDA</text></g>
<g id="n-BIPI" class="p"><circle cx="1743" cy="1647" r="23"/><text x="1743" y="1654">BIPI</text></g>
<g id="n-NENU" class="p"><circle cx="1813" cy="1678" r="23"/><text x="1813" y="1685">NENU</text></g>
<g id="n-CAPS" class="p"><circle cx="1436" cy="1788" r="23"/><text x="1436" y="1795">CAPS</text></g>
<g id="n-RUPA" class="p"><circle cx="1634" cy="1965" r="23"/><text x="1634" y="1972">RUPA</text></g>
<g id="n-POLA" class="p"><circle cx="1645" cy="2068" r="23"/><text x="1645" y="2075">POLA</text></g>
<g id="n-GAPA" class="p"><circle cx="2416" cy="1717" r="23"/><text x="2416" y="1724">GAPA</text></g>
<g id="n-LYLU" class="p"><circle cx="2768" cy="1330" r="23"/><text x="2768" y="1337">LYLU</text></g>
<g id="n-NAMA" class="p"><circle cx="2464" cy="2194" r="23"/><text x="2464" y="2201">NAMA</text></g>
<g id="n-BIBI" class="p"><circle cx="3115" cy="1996" r="23"/><text x="3115" y="2003">BIBI</text></g>
<g id="n-ASHI" class="p"><circle cx="3080" cy="2139" r="23"/><text x="3080" y="2146">ASHI</text></g>
<g id="n-ARHI" class="p"><circle cx="3002" cy="2279" r="23"/><text x="3002" y="2286">ARHI</text></g>
<g id="n-SEVI" class="t"><circle cx="1935" cy="1588" r="23"/><text x="1935" y="1595">SEVI</text></g>
<g id="n-GLSO" class="t"><circle cx="1985" cy="1650" r="23"/><text x="1985" y="1657">GLSO</text></g>
<g id="n-POHY" class="t"><circle cx="2077" cy="1658" r="23"/><text x="2077" y="1665">POHY</text></g>
<g id="n-CHAL" class="t"><circle cx="1678" cy="1717" r="23"/><text x="1678" y="1724">CHAL</text></g>
<g id="n-DISA" class="t"><circle cx="1702" cy="1787" r="23"/><text x="1702" y="1794">DISA</text></g>
<g id="n-ECCR" class="t"><circle cx="1789" cy="1832" r="23"/><text x="1789" y="1839">ECCR</text></g>
<g id="n-ECPR" class="t"><circle cx="1957" cy="1842" r="23"/><text x="1957" y="1849">ECPR</text></g>
<g id="n-POCA" class="t"><circle cx="1536" cy="1996" r="23"/><text x="1536" y="2003">POCA</text></g>
<g id="n-CYSE" class="t"><circle cx="1753" cy="2004" r="23"/><text x="1753" y="2011">CYSE</text></g>
<g id="n-CAHE" class="t"><circle cx="1547" cy="2089" r="23"/><text x="1547" y="2096">CAHE</text></g>
<g id="n-SECA" class="t"><circle cx="2730" cy="1952" r="23"/><text x="2730" y="1959">SECA</text></g>
<g id="n-MISA" class="t"><circle cx="2663" cy="2265" r="23"/><text x="2663" y="2272">MISA</text></g>
<g id="n-ARCA" class="g"><circle cx="1643" cy="1454" r="23"/><text x="1643" y="1461">ARCA</text></g>
<g id="n-ARAR" class="g"><circle cx="1554" cy="1473" r="23"/><text x="1554" y="1480">ARAR</text></g>
<g id="n-ELKA" class="g"><circle cx="1485" cy="1552" r="23"/><text x="1485" y="1559">ELKA</text></g>
<g id="n-SACO" class="g"><circle cx="1500" cy="1647" r="23"/><text x="1500" y="1654">SACO</text></g>
<g id="n-OXCO" class="g"><circle cx="1578" cy="1672" r="23"/><text x="1578" y="1679">OXCO</text></g>
<g id="n-AMRE" class="g"><circle cx="1364" cy="1948" r="23"/><text x="1364" y="1955">AMRE</text></g>
<g id="n-ECCA" class="g"><circle cx="1171" cy="2029" r="23"/><text x="1171" y="2036">ECCA</text></g>
<g id="n-DACA" class="g"><circle cx="1097" cy="2102" r="23"/><text x="1097" y="2109">DACA</text></g>
<g id="n-CIAR" class="g"><circle cx="1249" cy="2100" r="23"/><text x="1249" y="2107">CIAR</text></g>
<g id="n-MEAZ" class="g"><circle cx="1119" cy="2187" r="23"/><text x="1119" y="2194">MEAZ</text></g>
<g id="n-ARJA" class="g"><circle cx="1195" cy="2232" r="23"/><text x="1195" y="2239">ARJA</text></g>
<g id="n-SAPL" class="g"><circle cx="1282" cy="2205" r="23"/><text x="1282" y="2212">SAPL</text></g>
<g id="n-SOOL" class="g"><circle cx="2596" cy="1667" r="23"/><text x="2596" y="1674">SOOL</text></g>
<g id="n-IPNI" class="g"><circle cx="2596" cy="1749" r="23"/><text x="2596" y="1756">IPNI</text></g>
<g id="n-CEDE" class="g"><circle cx="2502" cy="1789" r="23"/><text x="2502" y="1796">CEDE</text></g>
<g id="n-IXPO" class="g"><circle cx="2019" cy="2505" r="23"/><text x="2019" y="2512">IXPO</text></g>
<g id="n-PRVU" class="g"><circle cx="2595" cy="2796" r="23"/><text x="2595" y="2803">PRVU</text></g>
<g id="n-ARHR" class="g"><circle cx="2467" cy="2879" r="23"/><text x="2467" y="2886">ARHR</text></g>
<g id="n-CANE" class="g"><circle cx="2632" cy="2910" r="23"/><text x="2632" y="2917">CANE</text></g>
<g id="n-PODI" class="g"><circle cx="1445" cy="2971" r="23"/><text x="1445" y="2978">PODI</text></g>
<g id="n-ERAN" class="g"><circle cx="1649" cy="2956" r="23"/><text x="1649" y="2963">ERAN</text></g>
<g id="n-TRTE" class="g"><circle cx="2086" cy="2971" r="23"/><text x="2086" y="2978">TRTE</text></g>
<g id="n-ARSE" class="g"><circle cx="2245" cy="2953" r="23"/><text x="2245" y="2960">ARSE</text></g>
<g id="n-HESI" class="g"><circle cx="1885" cy="2988" r="23"/><text x="1885" y="2995">HESI</text></g>
<g id="n-MOAL" class="g"><circle cx="2370" cy="2984" r="23"/><text x="2370" y="2991">MOAL</text></g>
<g id="n-CYAM" class="g"><circle cx="2521" cy="3021" r="23"/><text x="2521" y="3028">CYAM</text></g>
<g id="n-CYRO" class="g"><circle cx="1416" cy="3078" r="23"/><text x="1416" y="3085">CYRO</text></g>
<g id="n-APPI" class="g"><circle cx="1707" cy="3068" r="23"/><text x="1707" y="3075">APPI</text></g>
<g id="n-JUPA" class="g"><circle cx="2117" cy="3077" r="23"/><text x="2117" y="3084">JUPA</text></g>
<g id="n-DUIN" class="g"><circle cx="1552" cy="3114" r="23"/><text x="1552" y="3121">DUIN</text></g>
<g id="n-EQAR" class="g"><circle cx="1855" cy="3110" r="23"/><text x="1855" y="3117">EQAR</text></g>
<g id="n-MEJA" class="g"><circle cx="2402" cy="3117" r="23"/><text x="2402" y="3124">MEJA</text></g>
<g id="n-PATR" class="g"><circle cx="2294" cy="3152" r="23"/><text x="2294" y="3159">PATR</text></g>
<g id="n-VIMI" class="g"><circle cx="1647" cy="3206" r="23"/><text x="1647" y="3213">VIMI</text></g>
<g id="n-MISI" class="g"><circle cx="1992" cy="3200" r="23"/><text x="1992" y="3207">MISI</text></g>
<g id="n-MEFA" class="g"><circle cx="2185" cy="3192" r="23"/><text x="2185" y="3199">MEFA</text></g>
<g id="n-AVFA" class="g"><circle cx="1783" cy="3241" r="23"/><text x="1783" y="3248">AVFA</text></g>
<g id="n-ECCU" class="g"><circle cx="1912" cy="3262" r="23"/><text x="1912" y="3269">ECCU</text></g>
<g id="n-CUME" class="g"><circle cx="2086" cy="3251" r="23"/><text x="2086" y="3258">CUME</text></g>
</g>
<g id="hubs">
<g id="n-HHG" class="r hub"><circle cx="1130" cy="1281" r="80"/><text x="1133" y="1337" style="font-size:168px">HHG</text></g>
<g id="n-SMX" class="b hub"><circle cx="2180" cy="1060" r="70"/><text x="2182" y="1102" style="font-size:124px">SMX</text></g>
<g id="n-KFS" class="g hub"><circle cx="1913" cy="2268" r="60"/><text x="1913" y="2302" style="font-size:100px">KFS</text></g>
<g id="n-ZZS" class="o hub"><circle cx="1865" cy="1758" r="42"/><text x="1866" y="1776" style="font-size:52px">ZZS</text></g>
<g id="n-ZZG" class="p hub"><circle cx="2217" cy="1777" r="40"/><text x="2217" y="1794" style="font-size:50px">ZZG</text></g>
<g id="n-XXG" class="y hub"><circle cx="2424" cy="1498" r="33"/><text x="2424" y="1511" style="font-size:38px">XXG</text></g>
<g id="n-PYS" class="t hub"><circle cx="2087" cy="1950" r="32"/><text x="2087" y="1962" style="font-size:36px">PYS</text></g>
</g>
<g id="stats">
<text x="550" y="3052" style="font-size:140px">H2:0.3230</text>
<text x="633" y="3207" style="font-size:140px">Connectance:0.3018</text>
</g>
</svg>
